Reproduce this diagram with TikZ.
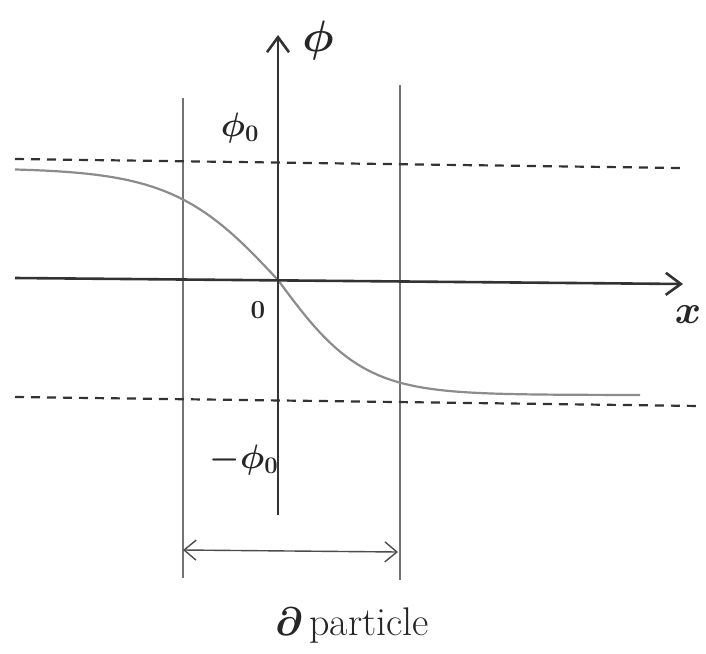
\RequirePackage{fix-cm}
\documentclass[tikz,border=0pt]{standalone}
\usetikzlibrary{arrows.meta}
\begin{document}
\begin{tikzpicture}[x=1pt,y=-1pt,
  axis/.style={line width=2.6pt,draw=black!80,-{Straight Barb[length=15pt,width=22pt,line width=2.6pt]}},
  guide/.style={line width=1.2pt,draw=black!55},
  level/.style={line width=2.2pt,draw=black!80,dash pattern=on 9pt off 7pt},
  kink/.style={line width=2.2pt,draw=black!45},
  span/.style={line width=1.4pt,draw=black!70,{Straight Barb[length=12pt,width=20pt]}-{Straight Barb[length=12pt,width=20pt]}},
  lab/.style={font=\fontsize{34}{36}\selectfont\boldmath, text=black!85, inner sep=0pt}]
\useasboundingbox (0,0) rectangle (706,653);
\fill[white] (0,0) rectangle (706,653);
% coordinates
\coordinate (xl) at (15,278);
\coordinate (xr) at (683,284);
\coordinate (yb) at (278,515);
\coordinate (yt) at (278,35);
\coordinate (ul) at (15,159);
\coordinate (ur) at (680,168);
\coordinate (dl) at (15,397);
\coordinate (dr) at (700,406);
\coordinate (gl1) at (183,98);
\coordinate (gl2) at (183,578);
\coordinate (gr1) at (400,85);
\coordinate (gr2) at (400,580);
\coordinate (al) at (183,550);
\coordinate (ar) at (398,552);
% guides
\draw[guide] (gl1) -- (gl2);
\draw[guide] (gr1) -- (gr2);
% dashed levels
\draw[level] (ul) -- (ur);
\draw[level] (dl) -- (dr);
% kink curve
\draw[kink] plot[domain=15:278,samples=60] (\x,{280+112*tanh((\x-278)/105)})
  -- plot[domain=278:640,samples=70] (\x,{280+115*tanh((\x-278)/85)});
% axes
\draw[axis] (xl) -- (xr);
\draw[axis] (yb) -- (yt);
% span arrow
\draw[span] (al) -- (ar);
% labels
\node[lab,font=\fontsize{44}{46}\selectfont\boldmath] (phi) at (318,40) {$\phi$};
\node[lab] (phi0) at (240,128) {$\phi_0$};
\node[lab,font=\fontsize{26}{28}\selectfont\boldmath] (zero) at (258,310) {$0$};
\node[lab] (mphi0) at (244,460) {$-\phi_0$};
\node[lab,font=\fontsize{40}{42}\selectfont\boldmath] (xlab) at (688,315) {$x$};
\node[lab,font=\fontsize{40}{42}\selectfont\boldmath] (part) at (352,626) {$\partial$\,particle};
\end{tikzpicture}
\end{document}
